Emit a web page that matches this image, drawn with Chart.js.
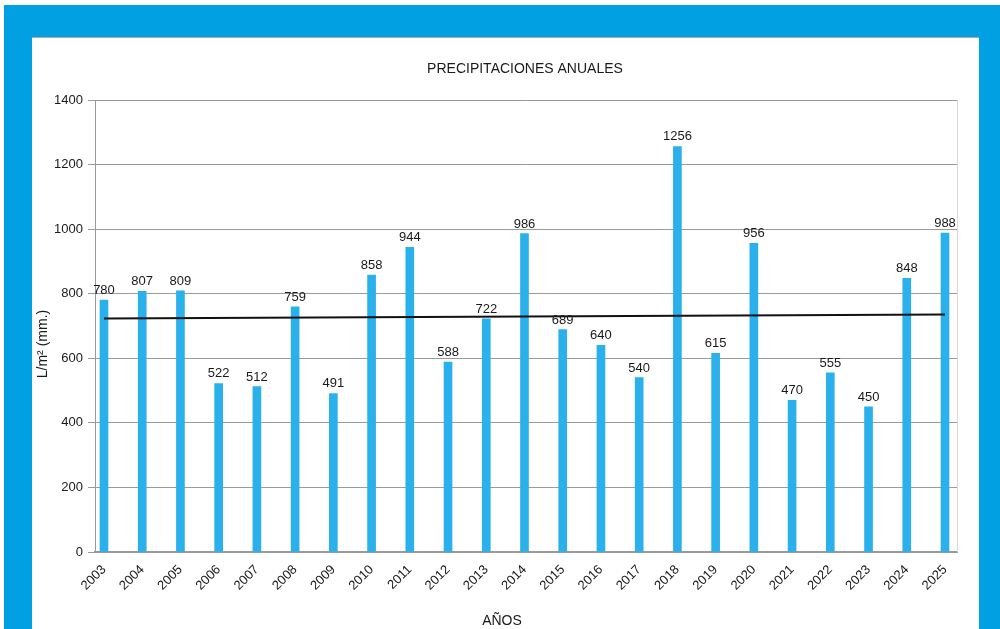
<!DOCTYPE html>
<html>
<head>
<meta charset="utf-8">
<script src="https://cdn.jsdelivr.net/npm/chart.js@4"></script>
<style>
  html, body { margin: 0; padding: 0; background: #fff; }
  #frame { position: absolute; left: 4px; top: 5px; width: 996px; height: 624px; background: #00a0e3; }
  #panel { position: absolute; left: 32px; top: 37px; width: 947px; height: 592px; background: #fff; border-top: 1px solid #aaa; box-sizing: border-box; }
  #chart { position: absolute; left: 0; top: 0; }
</style>
</head>
<body>
<div id="frame"></div>
<div id="panel"><canvas id="chart" width="947" height="591"></canvas></div>
<script>
const years = [2003, 2004, 2005, 2006, 2007, 2008, 2009, 2010, 2011, 2012, 2013, 2014, 2015, 2016, 2017, 2018, 2019, 2020, 2021, 2022, 2023, 2024, 2025];
const rainfall = [780, 807, 809, 522, 512, 759, 491, 858, 944, 588, 722, 986, 689, 640, 540, 1256, 615, 956, 470, 555, 450, 848, 988];
const trendYears = [2003, 2025];
const trendValues = [723, 736];
const yTicks = [0, 200, 400, 600, 800, 1000, 1200, 1400];

const FONT = '"Liberation Sans", Arial, sans-serif';

// labels above bars, titles, right border
const extras = {
    id: 'extras',
    afterDatasetsDraw(chart) {
        const ctx = chart.ctx;
        const meta = chart.getDatasetMeta(1);
        ctx.save();
        ctx.fillStyle = '#1a1a1a';
        ctx.font = '13px ' + FONT;
        ctx.textAlign = 'center';
        ctx.textBaseline = 'alphabetic';
        meta.data.forEach((bar, i) => {
            ctx.fillText(String(rainfall[i]), bar.x, bar.y - 6);
        });
        ctx.restore();
    },
    afterDraw(chart) {
        const ctx = chart.ctx;
        const area = chart.chartArea;
        ctx.save();
        ctx.strokeStyle = '#d8d8d8';
        ctx.lineWidth = 1;
        ctx.beginPath();
        ctx.moveTo(Math.round(area.right) + 0.5, area.top);
        ctx.lineTo(Math.round(area.right) + 0.5, area.bottom);
        ctx.stroke();

        ctx.fillStyle = '#1a1a1a';
        ctx.font = '14px ' + FONT;
        ctx.textAlign = 'center';
        ctx.textBaseline = 'middle';
        ctx.fillText('PRECIPITACIONES ANUALES', 493, 31);
        ctx.fillText('AÑOS', 470, 583);
        ctx.translate(11, 306);
        ctx.rotate(-Math.PI / 2);
        ctx.fillText('L/m² (mm.)', 0, 0);
        ctx.restore();
    }
};

new Chart(document.getElementById('chart').getContext('2d'), {
    type: 'bar',
    data: {
        datasets: [{
            type: 'line',
            data: trendYears.map((y, i) => ({ x: y, y: trendValues[i] })),
            borderColor: '#111',
            borderWidth: 2,
            pointRadius: 0,
            fill: false,
            order: 0
        }, {
            type: 'bar',
            data: years.map((y, i) => ({ x: y, y: rainfall[i] })),
            backgroundColor: '#2ab0ea',
            barThickness: 8,
            order: 1
        }]
    },
    options: {
        responsive: false,
        animation: false,
        layout: { padding: { top: 62, right: 22, bottom: 0, left: 0 } },
        plugins: {
            legend: { display: false },
            tooltip: { enabled: false }
        },
        scales: {
            x: {
                type: 'linear',
                offset: false,
                min: 2002.765,
                max: 2025.314,
                afterBuildTicks: (s) => { s.ticks = years.map(v => ({ value: v })); },
                afterFit: (s) => { s.height = 77; },
                grid: { display: false },
                border: { color: '#999', width: 2 },
                ticks: {
                    autoSkip: false,
                    minRotation: 45,
                    maxRotation: 45,
                    padding: 2,
                    color: '#1a1a1a',
                    font: { family: FONT, size: 13 },
                    callback: (v) => String(v)
                }
            },
            y: {
                min: 0,
                max: 1400,
                afterBuildTicks: (s) => { s.ticks = yTicks.map(v => ({ value: v })); },
                afterFit: (s) => { s.width = 63; },
                grid: { color: '#9a9a9a', lineWidth: 1, tickLength: 7 },
                border: { color: '#999', width: 1 },
                ticks: {
                    padding: 5,
                    color: '#1a1a1a',
                    font: { family: FONT, size: 13 },
                    callback: (v) => String(v)
                }
            }
        }
    },
    plugins: [extras]
});
</script>
</body>
</html>
